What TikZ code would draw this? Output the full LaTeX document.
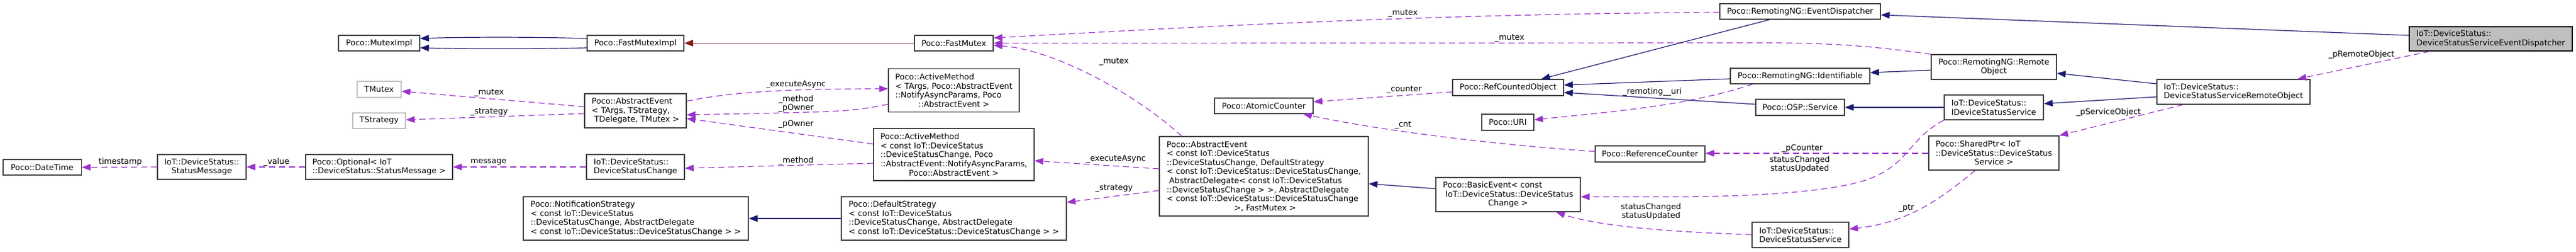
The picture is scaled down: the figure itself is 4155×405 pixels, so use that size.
\documentclass[tikz,border=0pt]{standalone}
\usepackage{fontspec}
\setmainfont{DejaVu Sans}
\usetikzlibrary{arrows.meta}
\definecolor{inhcol}{HTML}{191970}
\definecolor{privcol}{HTML}{8B1A1A}
\definecolor{usecol}{HTML}{9A32CD}
\newcommand{\DevStatusFont}{\fontsize{12.9}{14.6}\selectfont}
\tikzset{
	cls/.style={draw=black!75, line width=1.5pt, fill=white, inner xsep=6pt, inner ysep=3pt, align=left, font=\DevStatusFont},
	clsgrey/.style={cls, draw=gray!50},
	clshl/.style={cls, draw=black, fill=gray!50},
	inh/.style={draw=inhcol, line width=1.2pt, -{Triangle[length=14pt, width=10.5pt]}},
	inhpriv/.style={inh, draw=privcol},
	usage/.style={draw=usecol, line width=1.2pt, dash pattern=on 10pt off 6pt, -{Triangle[length=14pt, width=10.5pt]}},
	lbl/.style={font=\DevStatusFont, inner sep=0pt, align=center, text=black}
}
\begin{document}
\begin{tikzpicture}[x=1pt, y=-1pt]
	\useasboundingbox[fill=white] (0,0) rectangle (4155,405);
	\node[cls, minimum width=126.5, minimum height=25] (dt) at (68,269.5) {Poco::DateTime};
	\node[cls, minimum width=143, minimum height=40] (sm) at (325.5,269) {IoT::DeviceStatus::\\\hfil StatusMessage};
	\node[cls, minimum width=237, minimum height=40] (opt) at (611.5,269) {Poco::Optional< IoT\\\hfil ::DeviceStatus::StatusMessage >};
	\node[cls, minimum width=131, minimum height=25] (mi) at (611.5,69.5) {Poco::MutexImpl};
	\node[clsgrey, minimum width=71, minimum height=26] (tmx) at (611.5,144) {TMutex};
	\node[clsgrey, minimum width=85, minimum height=25] (tst) at (611.5,194.5) {TStrategy};
	\node[cls, minimum width=156, minimum height=25] (fmi) at (1025,69.5) {Poco::FastMutexImpl};
	\node[cls, minimum width=164, minimum height=55] (ae1) at (1025,178.5) {Poco::AbstractEvent\\< TArgs, TStrategy,\\\hfil~TDelegate, TMutex >};
	\node[cls, minimum width=158, minimum height=40] (dsc) at (1025,269) {IoT::DeviceStatus::\\\hfil DeviceStatusChange};
	\node[cls, minimum width=363, minimum height=70] (ns) at (1025.5,352) {Poco::NotificationStrategy\\< const IoT::DeviceStatus\\::DeviceStatusChange, AbstractDelegate\\\hfil < const IoT::DeviceStatus::DeviceStatusChange > >};
	\node[cls, minimum width=127, minimum height=25] (fm) at (1538.5,69.5) {Poco::FastMutex};
	\node[cls, minimum width=211, minimum height=70] (am1) at (1538.5,145.5) {Poco::ActiveMethod\\< TArgs, Poco::AbstractEvent\\::NotifyAsyncParams, Poco\\\hfil ::AbstractEvent >};
	\node[cls, minimum width=259, minimum height=84] (am2) at (1538.5,249) {Poco::ActiveMethod\\< const IoT::DeviceStatus\\::DeviceStatusChange, Poco\\::AbstractEvent::NotifyAsyncParams,\\\hfil Poco::AbstractEvent >};
	\node[cls, minimum width=363, minimum height=70] (ds) at (1538.5,352) {Poco::DefaultStrategy\\< const IoT::DeviceStatus\\::DeviceStatusChange, AbstractDelegate\\\hfil < const IoT::DeviceStatus::DeviceStatusChange > >};
	\node[cls, minimum width=337, minimum height=128] (ae2) at (2038.5,284) {Poco::AbstractEvent\\< const IoT::DeviceStatus\\::DeviceStatusChange, DefaultStrategy\\< const IoT::DeviceStatus::DeviceStatusChange,\\~AbstractDelegate< const IoT::DeviceStatus\\::DeviceStatusChange > >, AbstractDelegate\\< const IoT::DeviceStatus::DeviceStatusChange\\\hfil~>, FastMutex >};
	\node[cls, minimum width=159, minimum height=25] (ac) at (2038.5,170.5) {Poco::AtomicCounter};
	\node[cls, minimum width=179, minimum height=26] (rco) at (2432.5,141) {Poco::RefCountedObject};
	\node[cls, minimum width=84, minimum height=26] (uri) at (2432,197) {Poco::URI};
	\node[cls, minimum width=177, minimum height=26] (rc) at (2661.5,248) {Poco::ReferenceCounter};
	\node[cls, minimum width=233, minimum height=55] (be) at (2432.5,313.5) {Poco::BasicEvent< const\\~IoT::DeviceStatus::DeviceStatus\\\hfil Change >};
	\node[cls, minimum width=259, minimum height=25] (ed) at (2903.5,18.5) {Poco::RemotingNG::EventDispatcher};
	\node[cls, minimum width=225, minimum height=25] (idf) at (2903.5,122.5) {Poco::RemotingNG::Identifiable};
	\node[cls, minimum width=143, minimum height=26] (svc) at (2903.5,173) {Poco::OSP::Service};
	\node[cls, minimum width=156, minimum height=41] (dss) at (2904,378.5) {IoT::DeviceStatus::\\\hfil DeviceStatusService};
	\node[cls, minimum width=202, minimum height=40] (ro) at (3216,108) {Poco::RemotingNG::Remote\\\hfil Object};
	\node[cls, minimum width=160, minimum height=40] (ids) at (3216,173) {IoT::DeviceStatus::\\\hfil IDeviceStatusService};
	\node[cls, minimum width=210, minimum height=55] (sp) at (3216,246.5) {Poco::SharedPtr< IoT\\::DeviceStatus::DeviceStatus\\\hfil Service >};
	\node[cls, minimum width=247, minimum height=40] (dsro) at (3602.5,148) {IoT::DeviceStatus::\\\hfil DeviceStatusServiceRemoteObject};
	\node[clshl, minimum width=263, minimum height=39] (disp) at (4017.5,62.5) {IoT::DeviceStatus::\\\hfil DeviceStatusServiceEventDispatcher};
	\draw[usage] (sm.west) -- (dt.east) node[lbl] (l1) at (194,261) {timestamp};
	\draw[usage] (opt.west) -- (sm.east) node[lbl] (l2) at (446,261) {\_value};
	\draw[usage] (dsc.west) -- (opt.east) node[lbl] (l3) at (788,261) {message};
	\draw[usage] (ae1.west |- 0,172) -- (tmx.east |- 0,147) node[lbl] (l4) at (789,149) {\_mutex};
	\draw[usage] (ae1.west |- 0,183) -- (tst.east |- 0,193) node[lbl] (l5) at (789,180) {\_strategy};
	\draw[usage] (ae1.east |- 0,163) .. controls (1170,150) and (1250,143) .. (am1.west |- 0,143) node[lbl] (l6) at (1284,136) {\_executeAsync};
	\draw[usage] (am1.west |- 0,168) .. controls (1370,180) .. (ae1.east |- 0,185) node[lbl] (l7) at (1284,167) {\_method\\\_pOwner};
	\draw[usage] (am2.west |- 0,232) -- (ae1.east |- 0,191) node[lbl] (l8) at (1284,200) {\_pOwner};
	\draw[usage] (am2.west |- 0,263) -- (dsc.east |- 0,271) node[lbl] (l9) at (1284,259) {\_method};
	\draw[usage] (ae2.west |- 0,272) -- (am2.east |- 0,259) node[lbl] (l10) at (1800,256) {\_executeAsync};
	\draw[usage] (ae2.west |- 0,307) -- (ds.east |- 0,326) node[lbl] (l11) at (1797,303) {\_strategy};
	\draw[usage] (ae2.north -| 1906,0) .. controls (1830,150) and (1700,80) .. (fm.east |- 0,73) node[lbl] (l12) at (1797,99) {\_mutex};
	\draw[usage] (ed.west |- 0,20) .. controls (2300,22) and (1900,45) .. (fm.east |- 0,61) node[lbl] (l13) at (2263,21) {\_mutex};
	\draw[usage] (ro.north west) .. controls (3020,74) and (2950,69) .. (2850,69) -- (fm.east) node[lbl] (l14) at (2435,61) {\_mutex};
	\draw[usage] (rco.west |- 0,148) -- (ac.east |- 0,164) node[lbl] (l15) at (2265,144) {\_counter};
	\draw[usage] (rc.west |- 0,244) .. controls (2450,236) and (2250,215) .. (ac.south -| 2102,0) node[lbl] (l16) at (2263,201) {\_cnt};
	\draw[usage] (idf.south -| 2827,0) .. controls (2720,170) and (2620,178) .. (uri.east |- 0,193) node[lbl] (l17) at (2665,148) {\_remoting\_\_uri};
	\draw[usage] (sp.west |- 0,247) -- (rc.east |- 0,247) node[lbl] (l18) at (2907,239) {\_pCounter};
	\draw[usage] (ids.south west) .. controls (3075,225) and (3080,270) .. (3000,293) .. controls (2930,312) and (2800,317) .. (2700,317) -- (be.east |- 0,317) node[lbl] (l19) at (2903,265) {statusChanged\\statusUpdated};
	\draw[usage] (dss.west |- 0,378) .. controls (2700,374) and (2580,365) .. (be.south -| 2510,0) node[lbl] (l20) at (2663,341) {statusChanged\\statusUpdated};
	\draw[usage] (sp.south -| 3186,0) .. controls (3130,320) and (3080,358) .. (dss.east |- 0,369) node[lbl] (l21) at (3075,335) {\_ptr};
	\draw[usage] (dsro.south west -| 3521,0) -- (sp.north east) node[lbl] (l22) at (3401,181) {\_pServiceObject};
	\draw[usage] (disp.south -| 3919,0) -- (dsro.north -| 3706,0) node[lbl] (l23) at (3809,88) {\_pRemoteObject};
	\draw[inh] (fmi.west |- 0,62) .. controls (870,59.5) and (750,59.5) .. (mi.east |- 0,62);
	\draw[inh] (fmi.west |- 0,77) .. controls (870,79) and (750,79) .. (mi.east |- 0,77);
	\draw[inhpriv] (fm.west) -- (fmi.east);
	\draw[inh] (ds.west) -- (ns.east);
	\draw[inh] (be.west |- 0,304) -- (ae2.east |- 0,296);
	\draw[inh] (ed.south -| 2854,0) -- (rco.north -| 2486,0);
	\draw[inh] (idf.west |- 0,127) -- (rco.east |- 0,137);
	\draw[inh] (svc.west |- 0,168) -- (rco.east |- 0,149);
	\draw[inh] (ro.west |- 0,113) -- (idf.east |- 0,117);
	\draw[inh] (ids.west) -- (svc.east);
	\draw[inh] (disp.west |- 0,57) -- (ed.east |- 0,24);
	\draw[inh] (dsro.west |- 0,135) -- (ro.east |- 0,118);
	\draw[inh] (dsro.west |- 0,156) -- (ids.east |- 0,167);
\end{tikzpicture}
\end{document}
